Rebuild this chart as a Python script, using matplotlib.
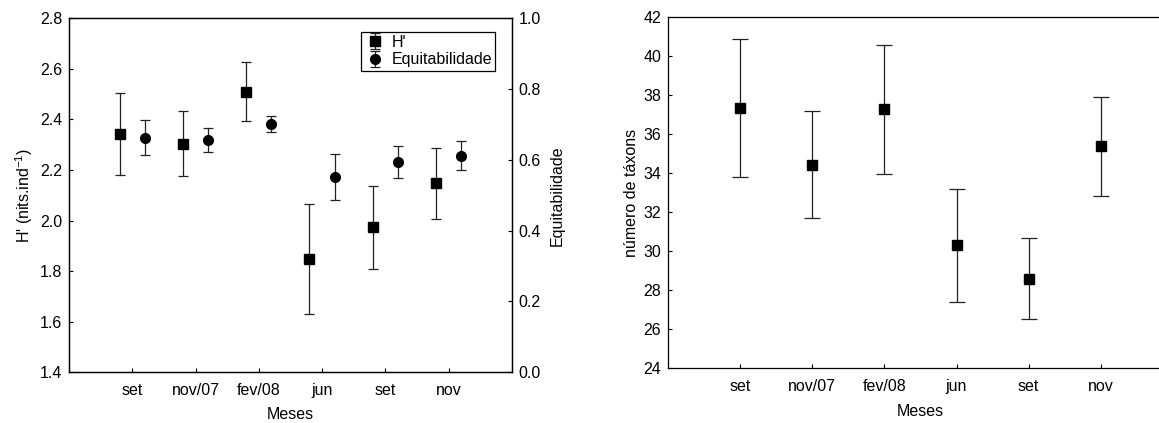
import numpy as np
import matplotlib
matplotlib.use("Agg")
import matplotlib.pyplot as plt

plt.rcParams['font.family'] = ['Liberation Sans', 'DejaVu Sans']
plt.rcParams['mathtext.default'] = 'regular'
plt.rcParams['font.size'] = 11.5

meses = ['set', 'nov/07', 'fev/08', 'jun', 'set', 'nov']

# diversidade de Shannon (H') e erro
h_vals = [2.343, 2.304, 2.510, 1.848, 1.973, 2.147]
h_err = [0.162, 0.128, 0.118, 0.217, 0.163, 0.140]

# equitabilidade e erro
eq_vals = [0.663, 0.656, 0.702, 0.551, 0.594, 0.611]
eq_err = [0.049, 0.034, 0.022, 0.065, 0.045, 0.041]

# numero de taxons e erro
tax_vals = [37.35, 34.44, 37.28, 30.30, 28.60, 35.38]
tax_err = [3.52, 2.74, 3.31, 2.88, 2.08, 2.53]

x = np.arange(1, len(meses) + 1)
ecol = '#222222'
fs = 11.5

fig = plt.figure(figsize=(11.59, 4.23), dpi=100)

# painel esquerdo
ax = fig.add_axes([0.0595, 0.1199, 0.3822, 0.8369])
h1 = ax.errorbar(x - 0.2, h_vals, yerr=h_err, fmt='s', color='black', ecolor=ecol,
                 markersize=6.5, capsize=3.5, elinewidth=0.9, capthick=0.9)
ax.set_xlim(0, 7)
ax.set_ylim(1.4, 2.8)
ax.set_yticks(np.arange(1.4, 2.81, 0.2))
ax.yaxis.set_major_formatter(matplotlib.ticker.FormatStrFormatter('%.1f'))
ax.set_xticks(x)
ax.set_xticklabels(meses)
ax.set_ylabel("H' (nits.ind$^{-1}$)", labelpad=3, fontsize=fs)
ax.set_xlabel('Meses', labelpad=6, fontsize=fs)
ax.tick_params(direction='in', length=3, width=0.8, pad=5, labelsize=fs)
ax.tick_params(axis='x', pad=8)

ax2 = ax.twinx()
h2 = ax2.errorbar(x + 0.2, eq_vals, yerr=eq_err, fmt='o', color='black', ecolor=ecol,
                  markersize=7, capsize=3.5, elinewidth=0.9, capthick=0.9)
ax2.set_ylim(0.0, 1.0)
ax2.set_yticks(np.arange(0, 1.01, 0.2))
ax2.yaxis.set_major_formatter(matplotlib.ticker.FormatStrFormatter('%.1f'))
ax2.set_ylabel('Equitabilidade', labelpad=6, fontsize=fs)
ax2.tick_params(direction='in', length=3, width=0.8, pad=5, labelsize=fs)

for a in (ax, ax2):
    for s in a.spines.values():
        s.set_linewidth(0.9)

leg = ax.legend([h1, h2], ["H'", 'Equitabilidade'], loc='upper right',
                bbox_to_anchor=(0.962, 0.962), borderaxespad=0, fancybox=False,
                edgecolor='black', handlelength=1.3, handletextpad=0.4, borderpad=0.2,
                labelspacing=0.15, fontsize=fs, framealpha=1)
leg.get_frame().set_linewidth(0.9)

# painel direito
ax3 = fig.add_axes([0.5766, 0.1293, 0.4352, 0.8298])
ax3.errorbar(x, tax_vals, yerr=tax_err, fmt='s', color='black', ecolor=ecol,
             markersize=6.5, capsize=5.5, elinewidth=0.9, capthick=0.9)
ax3.set_xlim(0, 7)
ax3.set_ylim(24, 42)
ax3.set_yticks(np.arange(24, 43, 2))
ax3.set_xticks(x)
ax3.set_xticklabels(meses)
ax3.set_ylabel('número de táxons', labelpad=3, fontsize=fs)
ax3.set_xlabel('Meses', labelpad=7, fontsize=fs)
ax3.tick_params(direction='in', length=3, width=0.8, pad=5, labelsize=fs)
ax3.tick_params(axis='x', pad=8)
for s in ax3.spines.values():
    s.set_linewidth(0.9)

fig.savefig('out.png', dpi=100)
